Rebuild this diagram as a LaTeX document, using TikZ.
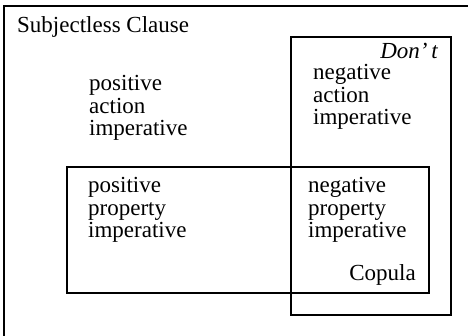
\documentclass[tikz,border=0pt]{standalone}
\usepackage{fontspec}
\setmainfont{Liberation Serif}
\begin{document}
\begin{tikzpicture}[x=1pt,y=-1pt,
  frame/.style={draw=black,line width=1.5pt},
  lbl/.style={inner sep=0pt,font=\fontsize{23}{22.7}\selectfont,align=left,anchor=base west},
  rlbl/.style={inner sep=0pt,font=\fontsize{23}{22.7}\selectfont,anchor=base east}]
\useasboundingbox (0,0) rectangle (468,336);
% outer region, running off the right and bottom edges
\draw[frame] (4,6) rectangle (480,350);
% "Don't" region and copula region
\draw[frame] (291,37) rectangle (451,315);
\draw[frame] (67,167) rectangle (429,293);
% labels (multi-line labels are placed by the baseline of their last line)
\node[lbl] (clause) at (17,33) {Subjectless Clause};
\node[lbl] (posact) at (89,136) {positive\\action\\imperative};
\node[rlbl] (dont) at (438,59) {\itshape Don'\,t};
\node[lbl] (negact) at (313,125) {negative\\action\\imperative};
\node[lbl] (posprop) at (88,238) {positive\\property\\imperative};
\node[lbl] (negprop) at (308,238) {negative\\property\\imperative};
\node[rlbl] (copula) at (416,280) {Copula};
\end{tikzpicture}
\end{document}
